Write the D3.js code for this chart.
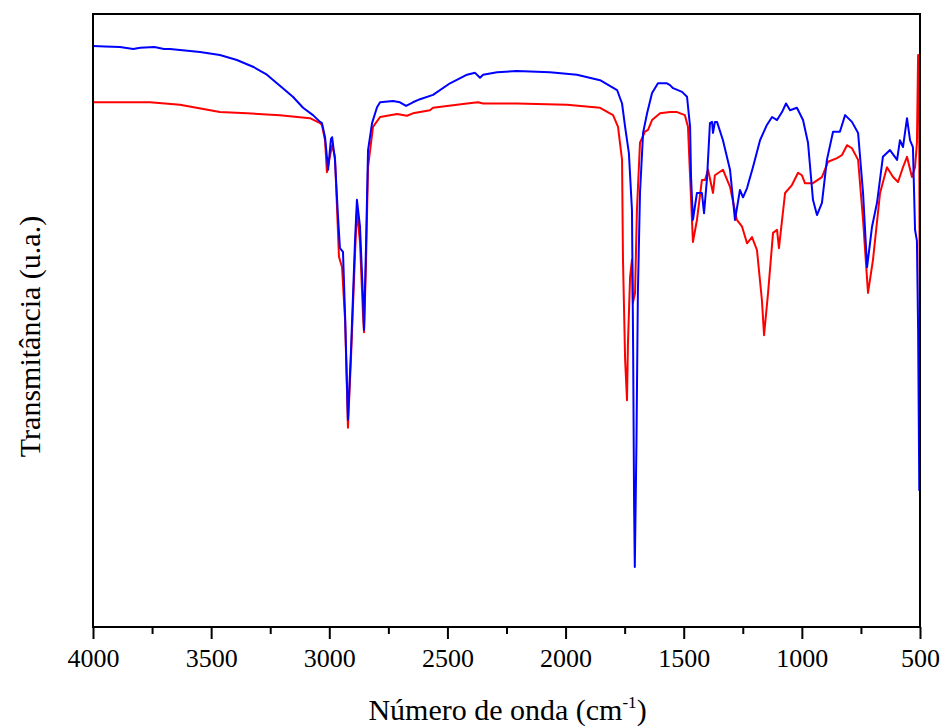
<!DOCTYPE html>
<html>
<head>
<meta charset="utf-8">
<script src="https://cdn.jsdelivr.net/npm/d3@7"></script>
<style>
  body { margin: 0; background: #fff; }
  svg { display: block; }
</style>
</head>
<body>
<div id="chart"></div>
<script>
// wavenumber (cm-1), transmittance (a.u., 0-100 of the plot height)
const blueSpectrum = [
  [4000, 94.8], [3950, 94.7], [3886, 94.6], [3830, 94.3], [3800, 94.5], [3740, 94.6],
  [3700, 94.3], [3674, 94.3], [3600, 94.0],
  [3547, 93.8], [3463, 93.3], [3391, 92.5], [3323, 91.4], [3264, 90.1], [3209, 88.3],
  [3154, 86.5], [3111, 84.7], [3069, 83.5], [3039, 82.4], [3031, 82.2], [3018, 79.9],
  [3005, 74.6], [2993, 79.6], [2988, 79.9], [2976, 76.2], [2963, 66.9], [2955, 61.8],
  [2942, 61.2], [2933, 50.6], [2921, 33.8], [2908, 45.2], [2891, 63.1], [2883, 69.7],
  [2870, 65.3], [2857, 53.3], [2853, 48.5], [2845, 61.5], [2836, 77.8], [2819, 82.2],
  [2798, 84.8], [2785, 85.6], [2730, 85.8], [2701, 85.6], [2675, 85.0], [2646, 85.6],
  [2616, 86.1], [2561, 86.8], [2489, 88.7], [2417, 90.1], [2383, 90.4], [2362, 89.6],
  [2349, 90.1], [2290, 90.5], [2206, 90.7], [2066, 90.5], [1952, 90.1], [1854, 89.2],
  [1782, 87.6], [1761, 85.4], [1748, 81.6], [1732, 77.3], [1719, 68.0], [1714, 45.0],
  [1710, 20.0], [1707, 9.8], [1700, 30.0], [1694, 54.5], [1685, 70.8], [1672, 80.6],
  [1655, 83.8], [1634, 87.1], [1609, 88.7], [1571, 88.7], [1558, 88.4], [1545, 87.9],
  [1507, 87.3], [1486, 86.5], [1473, 81.6], [1469, 73.4], [1461, 66.4], [1444, 70.8],
  [1423, 70.8], [1414, 67.5], [1401, 73.4], [1389, 82.2], [1380, 82.4], [1376, 80.6],
  [1368, 82.4], [1359, 82.4], [1334, 79.4], [1304, 74.6], [1283, 66.4], [1262, 71.3],
  [1249, 70.1], [1232, 71.6], [1207, 75.0], [1177, 79.4], [1148, 81.9], [1126, 83.2],
  [1105, 82.7], [1084, 84.0], [1067, 85.4], [1050, 84.3], [1021, 84.7], [995, 82.7],
  [974, 79.0], [953, 69.7], [936, 67.2], [915, 69.2], [894, 76.2], [868, 80.8],
  [839, 80.8], [817, 83.5], [788, 82.4], [762, 80.6], [741, 70.8], [724, 58.7],
  [703, 65.3], [682, 69.2], [657, 76.7], [627, 77.8], [597, 76.2], [585, 79.4],
  [572, 78.3], [555, 83.0], [542, 79.4], [530, 78.3], [521, 64.8], [513, 63.0],
  [508, 48.5], [503, 22.3], [501, 22.3]
];

const redSpectrum = [
  [4000, 85.6], [3843, 85.6], [3759, 85.6], [3632, 85.2], [3463, 84.0], [3348, 83.8],
  [3209, 83.5], [3082, 83.0], [3039, 82.2], [3031, 81.9], [3018, 79.4], [3010, 74.2],
  [2988, 78.6], [2976, 76.7], [2959, 60.4], [2946, 58.7], [2933, 50.0], [2921, 32.5],
  [2908, 44.0], [2891, 61.0], [2883, 68.0], [2870, 62.8], [2857, 50.6], [2853, 48.1],
  [2845, 58.7], [2836, 75.0], [2815, 81.6], [2785, 83.2], [2713, 83.7], [2671, 83.4],
  [2646, 83.8], [2574, 84.3], [2561, 84.7], [2417, 85.4], [2371, 85.6], [2349, 85.4],
  [2206, 85.4], [1994, 85.2], [1854, 84.7], [1799, 83.5], [1778, 81.6], [1761, 76.2],
  [1757, 59.9], [1748, 43.6], [1740, 37.0], [1736, 46.3], [1727, 57.1], [1719, 59.9],
  [1715, 52.9], [1706, 54.5], [1698, 68.0], [1685, 79.0], [1664, 80.8], [1651, 81.1],
  [1634, 82.7], [1600, 83.8], [1558, 84.0], [1528, 84.0], [1495, 83.5], [1482, 81.6],
  [1473, 73.4], [1461, 62.8], [1444, 66.4], [1423, 72.9], [1410, 72.9], [1397, 74.6],
  [1376, 70.8], [1368, 73.7], [1334, 74.6], [1304, 71.8], [1275, 66.4], [1253, 65.3],
  [1232, 62.6], [1211, 63.6], [1190, 61.5], [1169, 53.3], [1160, 47.6], [1143, 54.5],
  [1122, 64.3], [1105, 64.8], [1097, 61.8], [1071, 70.8], [1042, 72.1], [1016, 74.1],
  [1000, 73.7], [987, 72.4], [953, 72.4], [915, 73.4], [889, 75.9], [851, 76.5],
  [830, 77.0], [809, 78.6], [788, 78.1], [762, 76.2], [741, 66.4], [720, 54.5],
  [699, 59.9], [669, 70.8], [640, 75.0], [614, 73.4], [593, 72.6], [572, 75.0],
  [555, 76.7], [534, 73.4], [521, 75.0], [513, 79.0], [508, 93.3], [504, 93.3],
  [501, 49.6]
];

const majorTicks = [4000, 3500, 3000, 2500, 2000, 1500, 1000, 500];
const minorTicks = [3750, 3250, 2750, 2250, 1750, 1250, 750];
const seriesColors = ["#ff0000", "#0000ff"];
const xTitle = "Número de onda (cm";
const yTitle = "Transmitância (u.a.)";

const serif = '"Liberation Serif", "Times New Roman", serif';
const width = 940;
const height = 728;
const margin = { top: 14, right: 20, bottom: 101, left: 93 };
const innerWidth = width - margin.left - margin.right;
const innerHeight = height - margin.top - margin.bottom;

const svg = d3.select("#chart")
  .append("svg")
  .attr("width", width)
  .attr("height", height);

const g = svg.append("g")
  .attr("transform", `translate(${margin.left},${margin.top})`);

const x = d3.scaleLinear().domain([4000, 500]).range([0, innerWidth]);
const y = d3.scaleLinear().domain([0, 100]).range([innerHeight, 0]);

svg.append("defs").append("clipPath")
  .attr("id", "plot-clip")
  .append("rect")
  .attr("width", innerWidth)
  .attr("height", innerHeight);

const line = d3.line()
  .x((d) => x(d[0]))
  .y((d) => y(d[1]));

const curves = g.append("g").attr("clip-path", "url(#plot-clip)");

[redSpectrum, blueSpectrum].forEach((data, i) => {
  curves.append("path")
    .datum(data)
    .attr("fill", "none")
    .attr("stroke", seriesColors[i])
    .attr("stroke-width", 2)
    .attr("stroke-linejoin", "round")
    .attr("d", line);
});

// frame
g.append("rect")
  .attr("width", innerWidth)
  .attr("height", innerHeight)
  .attr("fill", "none")
  .attr("stroke", "#000")
  .attr("stroke-width", 2);

// bottom axis: major ticks with labels, minor ticks without
const xAxisG = g.append("g")
  .attr("transform", `translate(0,${innerHeight})`)
  .call(d3.axisBottom(x)
    .tickValues(majorTicks)
    .tickSize(12)
    .tickPadding(10)
    .tickFormat(d3.format("d")));
xAxisG.select(".domain").remove();
xAxisG.attr("font-family", serif).attr("font-size", 26);
xAxisG.selectAll("line").attr("stroke-width", 2);
xAxisG.selectAll("text").style("font-family", serif).style("font-size", "26px");

const minorAxisG = g.append("g")
  .attr("transform", `translate(0,${innerHeight})`)
  .call(d3.axisBottom(x).tickValues(minorTicks).tickSize(7).tickFormat(""));
minorAxisG.select(".domain").remove();
minorAxisG.selectAll("line").attr("stroke-width", 2);

// axis titles
const xt = svg.append("text")
  .attr("x", margin.left + innerWidth / 2 + 1)
  .attr("y", 720)
  .attr("text-anchor", "middle")
  .style("font-family", serif)
  .style("font-size", "30px");
xt.append("tspan").text(xTitle);
xt.append("tspan").attr("dy", -12).style("font-size", "17px").text("-1");
xt.append("tspan").attr("dy", 12).text(")");

svg.append("text")
  .attr("transform", `translate(40,${margin.top + innerHeight / 2 + 16}) rotate(-90)`)
  .attr("text-anchor", "middle")
  .style("font-family", serif)
  .style("font-size", "30px")
  .text(yTitle);
</script>
</body>
</html>
